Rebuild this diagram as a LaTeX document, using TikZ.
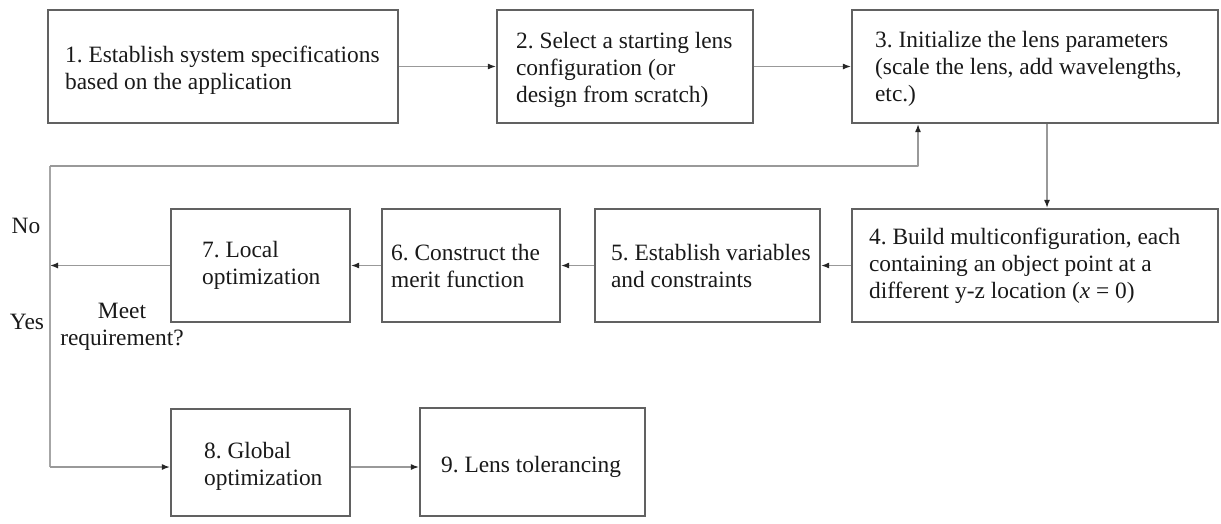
\documentclass[tikz,border=0pt]{standalone}
\usepackage{fontspec}
\setmainfont{Liberation Serif}
\usetikzlibrary{arrows.meta}
\begin{document}
\frenchspacing
\begin{tikzpicture}[x=1pt,y=-1pt,
  box/.style={draw=black!62, line width=2.2pt, inner sep=0pt},
  txt/.style={anchor=west, align=left, inner sep=0pt,
    font=\fontsize{23.4}{27}\selectfont\frenchspacing, text=black!90},
  conn/.style={draw=black!40, line width=1.3pt,
    -{Latex[length=8pt,width=6pt,fill=black!85,color=black!85]}},
  line/.style={draw=black!35, line width=1.5pt},
  lbl/.style={font=\fontsize{23.4}{27}\selectfont, text=black!90, align=center}]
\useasboundingbox (0,0) rectangle (1221,523);
% top row
\node[box, minimum width=350pt, minimum height=113pt] (b1) at (223,66.5) {};
\node[box, minimum width=256pt, minimum height=113pt] (b2) at (625,66.5) {};
\node[box, minimum width=366pt, minimum height=113pt] (b3) at (1035,66.5) {};
% middle row
\node[box, minimum width=366pt, minimum height=113pt] (b4) at (1035,265.5) {};
\node[box, minimum width=225pt, minimum height=113pt] (b5) at (707.5,265.5) {};
\node[box, minimum width=178pt, minimum height=113pt] (b6) at (471,265.5) {};
\node[box, minimum width=179pt, minimum height=113pt] (b7) at (260.5,265.5) {};
% bottom row
\node[box, minimum width=179pt, minimum height=107pt] (b8) at (260.5,462.5) {};
\node[box, minimum width=225pt, minimum height=108pt] (b9) at (532.5,462) {};
% texts
\node[txt] (t1) at ([xshift=18pt,yshift=-4pt]b1.west) {1. Establish system specifications\\based on the application};
\node[txt] (t2) at ([xshift=20pt,yshift=-3pt]b2.west) {2. Select a starting lens\\configuration (or\\design from scratch)};
\node[txt] (t3) at ([xshift=24pt,yshift=-2pt]b3.west) {3. Initialize the lens parameters\\(scale the lens, add wavelengths,\\etc.)};
\node[txt] (t4) at ([xshift=18pt]b4.west) {4. Build multiconfiguration, each\\containing an object point at a\\different y-z location (\textit{x} = 0)};
\node[txt] (t5) at ([xshift=17pt]b5.west) {5. Establish variables\\and constraints};
\node[txt] (t6) at ([xshift=10pt]b6.west) {6. Construct the\\merit function};
\node[txt] (t7) at ([xshift=32pt]b7.west) {7. Local\\optimization};
\node[txt] (t8) at ([xshift=34pt,yshift=-4pt]b8.west) {8. Global\\optimization};
\node[txt] (t9) at ([xshift=22pt,yshift=-5pt]b9.west) {9. Lens tolerancing};
% labels
\node[lbl] (no) at (26,226) {No};
\node[lbl] (yes) at (27,322) {Yes};
\node[lbl] (meet) at (122,327) {Meet\\requirement?};
% coordinates of the loop
\coordinate (tl) at (50,166);
\coordinate (tr) at (918,166);
\coordinate (bl) at (50,467);
\coordinate (dj) at (b7.west -| tl);
% connectors
\draw[conn] (b1.east) -- (b2.west);
\draw[conn] (b2.east) -- (b3.west);
\draw[conn] (b3.south -| 1047,0) -- (b4.north -| 1047,0);
\draw[conn] (b4.west) -- (b5.east);
\draw[conn] (b5.west) -- (b6.east);
\draw[conn] (b6.west) -- (b7.east);
\draw[conn] (b7.west) -- (dj);
\draw[line] (bl) -- (tl);
\draw[conn, line join=round] (tl) -- (tr) -- (tr |- b3.south);
\draw[conn] (bl) -- (bl -| b8.west);
\draw[conn] (b8.east |- bl) -- (b9.west |- bl);
\end{tikzpicture}
\end{document}
